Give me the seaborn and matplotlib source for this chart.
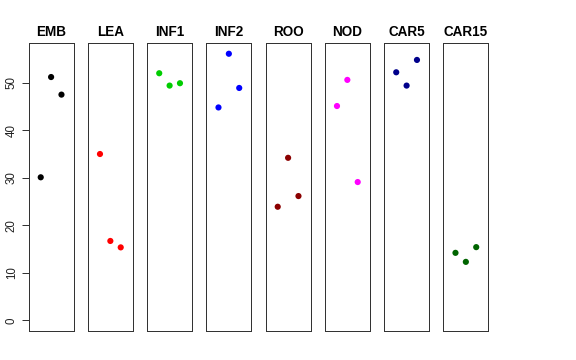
import matplotlib
matplotlib.use("Agg")
import matplotlib.pyplot as plt
import seaborn as sns
import pandas as pd

groups = ["EMB", "LEA", "INF1", "INF2", "ROO", "NOD", "CAR5", "CAR15"]
colors = ["black", "#FF0000", "#00CD00", "#0000FF", "#8B0000", "#FF00FF", "#00008B", "#006400"]
positions = [1, 2, 3]
values = {
    "EMB": [30.1, 51.2, 47.5],
    "LEA": [35.0, 16.7, 15.35],
    "INF1": [52.0, 49.4, 49.9],
    "INF2": [44.8, 56.1, 48.9],
    "ROO": [23.9, 34.2, 26.15],
    "NOD": [45.1, 50.6, 29.1],
    "CAR5": [52.2, 49.4, 54.8],
    "CAR15": [14.2, 12.3, 15.4],
}
y_ticks = [0, 10, 20, 30, 40, 50]


def main():
    sns.set_style("white")
    plt.rcParams["font.family"] = ["Liberation Sans", "DejaVu Sans"]
    plt.rcParams["text.color"] = "black"
    plt.rcParams["ytick.color"] = "black"
    plt.rcParams["ytick.labelcolor"] = "#222222"

    fig = plt.figure(figsize=(8, 5), dpi=72)
    H = 360.0
    W = 576.0
    left0 = 28.7
    stride = 59.25
    width = 44.8
    bottom = (H - 331.0) / H
    height = (331.0 - 43.3) / H

    for i, (name, col) in enumerate(zip(groups, colors)):
        ax = fig.add_axes([(left0 + i * stride) / W, bottom, width / W, height])
        df = pd.DataFrame({"x": positions, "y": values[name]})
        sns.scatterplot(data=df, x="x", y="y", color=col, s=38,
                        edgecolor="none", ax=ax, legend=False)
        ax.set_xlim(-0.16, 4.16)
        ax.set_ylim(-2.25, 58.3)
        ax.set_xticks([])
        ax.set_xlabel("")
        ax.set_ylabel("")
        ax.set_title(name, fontsize=13.5, fontweight="bold", pad=7, color="black")
        for sp in ax.spines.values():
            sp.set_visible(True)
            sp.set_color("#333333")
            sp.set_linewidth(1)
        if i == 0:
            ax.set_yticks(y_ticks)
            ax.set_yticklabels([str(t) for t in y_ticks], rotation=90,
                               va="center", fontsize=11.5)
            ax.tick_params(axis="y", left=True, length=7, width=1,
                           color="#333333", pad=4)
        else:
            ax.set_yticks([])

    fig.savefig("out.png", dpi=72)
    plt.close(fig)


if __name__ == "__main__":
    main()
